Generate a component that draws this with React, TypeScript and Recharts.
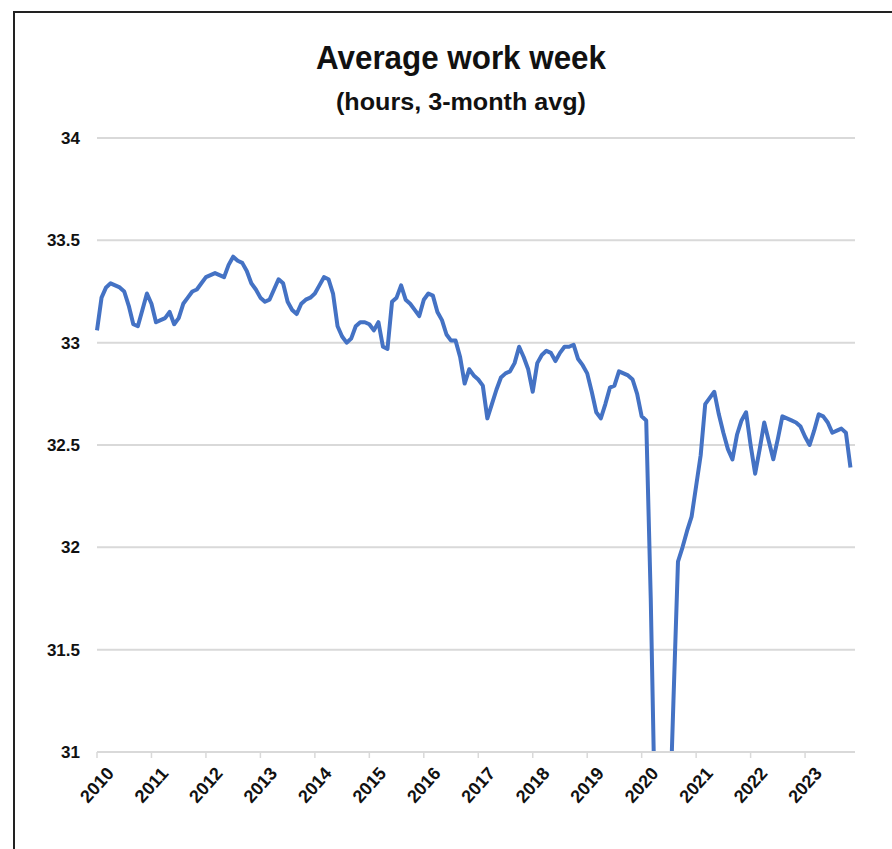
import React from "react";
import { LineChart, Line, XAxis, YAxis, CartesianGrid } from "recharts";

const title = "Average work week";
const subtitle = "(hours, 3-month avg)";
const startYear = 2010;

// monthly values, Jan 2010 .. Nov 2023 (3-month average of weekly hours)
const hours2010 = [33.06, 33.22, 33.27, 33.29, 33.28, 33.27, 33.25, 33.18, 33.09, 33.08, 33.16, 33.24];
const hours2011 = [33.19, 33.1, 33.11, 33.12, 33.15, 33.09, 33.12, 33.19, 33.22, 33.25, 33.26, 33.29];
const hours2012 = [33.32, 33.33, 33.34, 33.33, 33.32, 33.38, 33.42, 33.4, 33.39, 33.35, 33.29, 33.26];
const hours2013 = [33.22, 33.2, 33.21, 33.26, 33.31, 33.29, 33.2, 33.16, 33.14, 33.19, 33.21, 33.22];
const hours2014 = [33.24, 33.28, 33.32, 33.31, 33.24, 33.08, 33.03, 33.0, 33.02, 33.08, 33.1, 33.1];
const hours2015 = [33.09, 33.06, 33.1, 32.98, 32.97, 33.2, 33.22, 33.28, 33.21, 33.19, 33.16, 33.13];
const hours2016 = [33.21, 33.24, 33.23, 33.15, 33.11, 33.04, 33.01, 33.01, 32.93, 32.8, 32.87, 32.84];
const hours2017 = [32.82, 32.79, 32.63, 32.7, 32.77, 32.83, 32.85, 32.86, 32.9, 32.98, 32.93, 32.87];
const hours2018 = [32.76, 32.9, 32.94, 32.96, 32.95, 32.91, 32.95, 32.98, 32.98, 32.99, 32.92, 32.89];
const hours2019 = [32.85, 32.76, 32.66, 32.63, 32.7, 32.78, 32.79, 32.86, 32.85, 32.84, 32.82, 32.75];
const hours2020 = [32.64, 32.62, 31.75, 30.6, 30.1, 30.2, 30.55, 31.25, 31.93, 32.0, 32.08, 32.15];
const hours2021 = [32.3, 32.45, 32.7, 32.73, 32.76, 32.65, 32.56, 32.48, 32.43, 32.55, 32.62, 32.66];
const hours2022 = [32.5, 32.36, 32.48, 32.61, 32.52, 32.43, 32.53, 32.64, 32.63, 32.62, 32.61, 32.59];
const hours2023 = [32.54, 32.5, 32.57, 32.65, 32.64, 32.61, 32.56, 32.57, 32.58, 32.56, 32.39];

const hours = [
  ...hours2010, ...hours2011, ...hours2012, ...hours2013, ...hours2014,
  ...hours2015, ...hours2016, ...hours2017, ...hours2018, ...hours2019,
  ...hours2020, ...hours2021, ...hours2022, ...hours2023,
];

const yearLabels = ["2010", "2011", "2012", "2013", "2014", "2015", "2016", "2017", "2018", "2019", "2020", "2021", "2022", "2023"];
const yTicks = [31, 31.5, 32, 32.5, 33, 33.5, 34];

const data = hours.map((v, i) => ({ m: i, v }));
const xTicks = yearLabels.map((y) => (Number(y) - startYear) * 12);

const FONT = '"Liberation Sans Narrow", "Liberation Sans", Arial, sans-serif';

const XTick = (props: any) => {
  const { x, y, payload } = props;
  const label = yearLabels[Math.round(payload.value / 12)];
  return (
    <text
      transform={`translate(${x},${y + 25}) rotate(-48)`}
      textAnchor="middle"
      dominantBaseline="central"
      fontSize={18}
      fontWeight="bold"
      fontFamily={FONT}
      fill="#111"
      textLength={40}
      lengthAdjust="spacingAndGlyphs"
    >
      {label}
    </text>
  );
};

const yFmt = (v: number) => String(v);

export default function App() {
  return (
    <div style={{ position: "absolute", left: 0, top: 0, width: 892, height: 849, overflow: "hidden", background: "#fff" }}>
      <div
        style={{
          position: "absolute",
          left: 13,
          top: 11,
          width: 900,
          height: 900,
          borderLeft: "2px solid #222",
          borderTop: "2px solid #222",
        }}
      />
      <LineChart
        width={892}
        height={849}
        data={data}
        margin={{ top: 138, right: 37, bottom: 37, left: 0 }}
        style={{ position: "absolute", left: 0, top: 0 }}
      >
        <CartesianGrid horizontal={true} vertical={false} stroke="#d9d9d9" strokeWidth={2} />
        <XAxis
          dataKey="m"
          type="number"
          domain={[0, 167]}
          ticks={xTicks}
          interval={0}
          height={60}
          axisLine={{ stroke: "#d9d9d9", strokeWidth: 2 }}
          tickLine={{ stroke: "#d9d9d9", strokeWidth: 1.5 }}
          tickSize={6}
          tick={<XTick />}
        />
        <YAxis
          type="number"
          domain={[31, 34]}
          ticks={yTicks}
          allowDataOverflow={true}
          interval={0}
          width={97}
          axisLine={false}
          tickLine={false}
          tickSize={6}
          tickMargin={11}
          tickFormatter={yFmt}
          tick={{ fontSize: 17, fontWeight: "bold", fill: "#111", fontFamily: FONT }}
        />
        <Line
          type="linear"
          dataKey="v"
          stroke="#4472C4"
          strokeWidth={4}
          strokeLinejoin="round"
          dot={false}
          isAnimationActive={false}
        />
      </LineChart>
      <svg width={892} height={130} style={{ position: "absolute", left: 0, top: 0, pointerEvents: "none" }}>
        <text
          x={461}
          y={69}
          textAnchor="middle"
          fontSize={33}
          fontWeight="bold"
          fontFamily={FONT}
          fill="#111"
          textLength={290}
          lengthAdjust="spacingAndGlyphs"
        >
          {title}
        </text>
        <text
          x={461}
          y={110}
          textAnchor="middle"
          fontSize={23}
          fontWeight="bold"
          fontFamily={FONT}
          fill="#111"
          textLength={250}
          lengthAdjust="spacingAndGlyphs"
        >
          {subtitle}
        </text>
      </svg>
    </div>
  );
}
